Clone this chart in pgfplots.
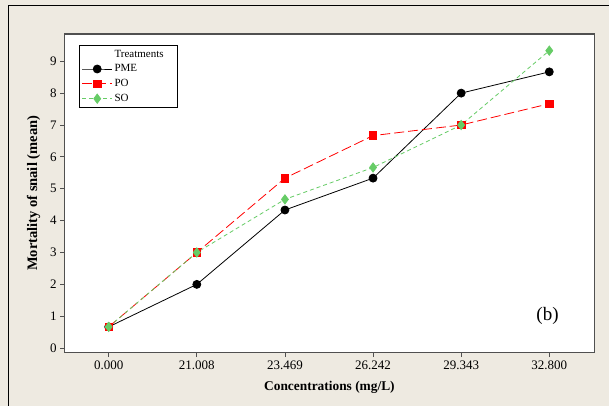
\documentclass[border=0pt]{standalone}
\usepackage{pgfplots}
\pgfplotsset{compat=1.18}
\usepackage{fontspec}
\setmainfont{Liberation Serif}
\definecolor{bgc}{HTML}{EEEAE1}
\definecolor{frm}{HTML}{505050}
\definecolor{sog}{HTML}{66CC66}
\begin{document}
\begin{tikzpicture}[x=1pt,y=1pt]
\fill[bgc] (0,0) rectangle (609,406);
\draw[black, line width=1pt] (8.3,0) -- (8.3,400.5) -- (609,400.5);
\begin{axis}[
  at={(64.7pt,53pt)}, anchor=south west,
  scale only axis, width=530pt, height=319pt,
  xmin=-0.50, xmax=5.51, ymin=-0.144, ymax=9.856,
  axis background/.style={fill=white},
  axis line style={frm, line width=1.3pt},
  xtick={0,1,2,3,4,5},
  xticklabels={0.000,21.008,23.469,26.242,29.343,32.800},
  ytick={0,1,...,9},
  tick align=outside, xtick pos=bottom, ytick pos=left,
  major tick length=4.5pt,
  tick style={frm, line width=0.8pt},
  /pgf/number format/assume math mode=true,
  ticklabel style={font=\fontsize{13}{15}\selectfont},
  xlabel={\textbf{Concentrations (mg/L)}},
  ylabel={\textbf{Mortality of snail (mean)}},
  xlabel style={font=\fontsize{13.4}{15}\selectfont, yshift=-5pt},
  ylabel style={font=\fontsize{14.5}{16}\selectfont, yshift=3pt},
  legend style={at={(axis description cs:0.027,0.9655)}, anchor=north west,
    draw=black, line width=0.8pt, font=\fontsize{11}{13}\selectfont,
    row sep=2.1pt, inner sep=2.5pt},
  legend cell align=left,
  legend image code/.code={\draw[mark repeat=2,mark phase=2,#1] plot coordinates {(0pt,0pt) (15pt,0pt) (30pt,0pt)};},
  legend image post style={line width=0.8pt},
]
\addlegendimage{empty legend}
\addlegendentry{\makebox[58pt][l]{Treatments}}
\addplot[black, line width=0.8pt, mark=*, mark size=4pt, mark options={solid}]
  coordinates {(0,0.667) (1,2) (2,4.333) (3,5.333) (4,8) (5,8.667)};
\addlegendentry{PME}
\addplot[red, line width=0.8pt, dash pattern=on 10pt off 4pt, mark=square*, mark size=3.8pt, mark options={solid}]
  coordinates {(0,0.667) (1,3) (2,5.333) (3,6.667) (4,7) (5,7.667)};
\addlegendentry{PO}
\addplot[sog, line width=0.8pt, dash pattern=on 4pt off 3pt, mark=diamond*, mark size=4.6pt, mark options={solid}]
  coordinates {(0,0.667) (1,3) (2,4.667) (3,5.667) (4,7) (5,9.333)};
\addlegendentry{SO}
\node[font=\fontsize{19}{22}\selectfont] at (axis cs:4.98,1.0) {(b)};
\end{axis}
\end{tikzpicture}
\end{document}
